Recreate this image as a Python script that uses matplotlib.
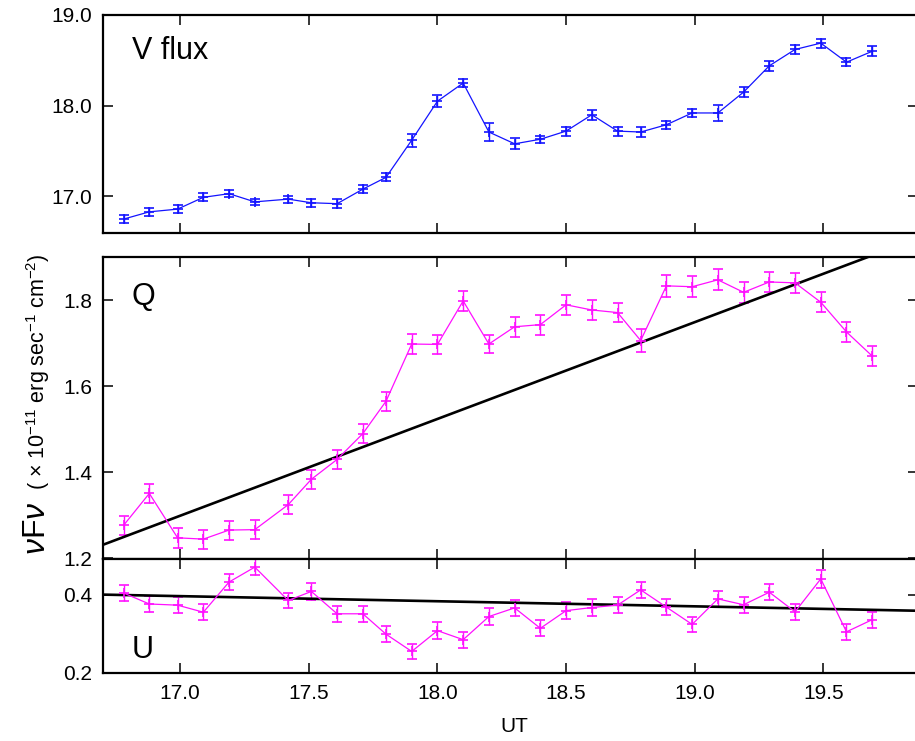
import matplotlib
matplotlib.use('Agg')
import numpy as np
import matplotlib.pyplot as plt
from matplotlib.ticker import MultipleLocator, FormatStrFormatter

plt.rcParams['font.family'] = ['Liberation Sans', 'DejaVu Sans']
plt.rcParams['mathtext.fontset'] = 'custom'
plt.rcParams['mathtext.rm'] = 'Liberation Sans'
plt.rcParams['mathtext.it'] = 'Liberation Sans:italic'
plt.rcParams['mathtext.bf'] = 'Liberation Sans:bold'

# Tiempos (UT) comunes a los tres paneles
ut = [16.78, 16.88, 16.99, 17.09, 17.19, 17.29, 17.42, 17.51, 17.61, 17.71,
      17.80, 17.90, 18.00, 18.10, 18.20, 18.30, 18.40, 18.50, 18.60, 18.70,
      18.79, 18.89, 18.99, 19.09, 19.19, 19.29, 19.39, 19.49, 19.59, 19.69]

# Flujo V
v_flux = [16.75, 16.83, 16.86, 16.99, 17.03, 16.94, 16.97, 16.93, 16.92, 17.08,
          17.21, 17.62, 18.05, 18.25, 17.71, 17.58, 17.63, 17.72, 17.90, 17.72,
          17.71, 17.79, 17.92, 17.92, 18.15, 18.44, 18.62, 18.69, 18.48, 18.60]
v_err = [0.04, 0.045, 0.04, 0.045, 0.04, 0.035, 0.04, 0.045, 0.05, 0.045,
         0.045, 0.073, 0.068, 0.045, 0.10, 0.06, 0.04, 0.05, 0.055, 0.05,
         0.05, 0.042, 0.044, 0.086, 0.053, 0.055, 0.05, 0.05, 0.046, 0.055]

# Q
q_vals = [1.277, 1.351, 1.248, 1.245, 1.266, 1.267, 1.325, 1.384, 1.430, 1.490,
          1.565, 1.698, 1.697, 1.798, 1.698, 1.738, 1.743, 1.789, 1.777, 1.771,
          1.706, 1.833, 1.831, 1.847, 1.818, 1.842, 1.840, 1.795, 1.726, 1.670]
q_err = [0.022, 0.022, 0.023, 0.022, 0.022, 0.022, 0.022, 0.022, 0.022, 0.022,
         0.022, 0.023, 0.022, 0.023, 0.022, 0.023, 0.023, 0.023, 0.023, 0.023,
         0.027, 0.025, 0.024, 0.024, 0.024, 0.024, 0.023, 0.023, 0.023, 0.024]

# U
u_vals = [0.404, 0.376, 0.373, 0.355, 0.432, 0.470, 0.385, 0.408, 0.351, 0.351,
          0.299, 0.255, 0.308, 0.285, 0.344, 0.366, 0.314, 0.359, 0.367, 0.373,
          0.412, 0.368, 0.324, 0.389, 0.374, 0.406, 0.356, 0.440, 0.305, 0.336]
u_err = [0.021, 0.021, 0.021, 0.021, 0.021, 0.021, 0.02, 0.021, 0.021, 0.021,
         0.02, 0.02, 0.021, 0.02, 0.021, 0.021, 0.02, 0.021, 0.021, 0.021,
         0.021, 0.02, 0.02, 0.02, 0.02, 0.02, 0.02, 0.023, 0.02, 0.02]

# Ajustes lineales: valor en UT=18 y pendiente (por hora)
q_fit = (1.524, 0.2247)
u_fit = (0.383, -0.013)

xlim = (16.70, 19.866)

fig = plt.figure(figsize=(9.15, 7.41), dpi=100)
# el borde derecho queda fuera de la imagen, como en el original
L, W = 103 / 915, 814.5 / 915
ax_v = fig.add_axes([L, 1 - 232.7 / 741, W, 217.7 / 741])
ax_q = fig.add_axes([L, 1 - 558.5 / 741, W, 301.5 / 741])
ax_u = fig.add_axes([L, 1 - 673 / 741, W, 114.5 / 741])

blue = '#1414ff'
mag = '#ff10ff'
eb_kw = dict(fmt='-', marker='+', ms=7, mew=1.2, lw=0.9, elinewidth=1.0,
             capsize=3.8, capthick=1.0)

ax_v.errorbar(ut, v_flux, yerr=v_err, color=blue, **eb_kw)
ax_q.errorbar(ut, q_vals, yerr=q_err, color=mag, **eb_kw)
ax_u.errorbar(ut, u_vals, yerr=u_err, color=mag, **eb_kw)

xx = np.array(xlim)
ax_q.plot(xx, q_fit[0] + q_fit[1] * (xx - 18.0), color='black', lw=1.9)
ax_u.plot(xx, u_fit[0] + u_fit[1] * (xx - 18.0), color='black', lw=1.9)

ax_v.set_ylim(16.6, 19.0)
ax_v.yaxis.set_major_locator(MultipleLocator(1.0))
ax_v.yaxis.set_major_formatter(FormatStrFormatter('%.1f'))
ax_q.set_ylim(1.2, 1.9)
ax_q.yaxis.set_major_locator(MultipleLocator(0.2))
ax_q.yaxis.set_major_formatter(FormatStrFormatter('%.1f'))
ax_u.set_ylim(0.2, 0.492)
ax_u.yaxis.set_major_locator(MultipleLocator(0.2))
ax_u.yaxis.set_major_formatter(FormatStrFormatter('%.1f'))

for ax in (ax_v, ax_q, ax_u):
    ax.set_xlim(*xlim)
    ax.xaxis.set_major_locator(MultipleLocator(0.5))
    ax.xaxis.set_major_formatter(FormatStrFormatter('%.1f'))
    ax.tick_params(direction='in', length=7.5, width=1.1, top=True, right=True,
                   labelsize=15, pad=8)
    for s in ax.spines.values():
        s.set_linewidth(1.6)
ax_v.tick_params(labelbottom=False)
ax_q.tick_params(labelbottom=False)

ax_v.text(0.035, 0.8, 'V flux', transform=ax_v.transAxes, fontsize=22)
ax_q.text(0.035, 0.84, 'Q', transform=ax_q.transAxes, fontsize=22)
ax_u.text(0.035, 0.13, 'U', transform=ax_u.transAxes, fontsize=22)

fig.text(514 / 915, 1 - 727 / 741, 'UT', fontsize=15, ha='center', va='center')
fig.text(45 / 915, 1 - 555 / 741, r'$\nu$F$\nu$', fontsize=23, rotation=90,
         rotation_mode='anchor', ha='left', va='baseline')
fig.text(45 / 915, 1 - 490 / 741,
         r'( $\times$ 10$^{-11}$ erg sec$^{-1}$ cm$^{-2}$)', fontsize=15.5,
         rotation=90, rotation_mode='anchor', ha='left', va='baseline')

fig.savefig('out.png', dpi=100)
